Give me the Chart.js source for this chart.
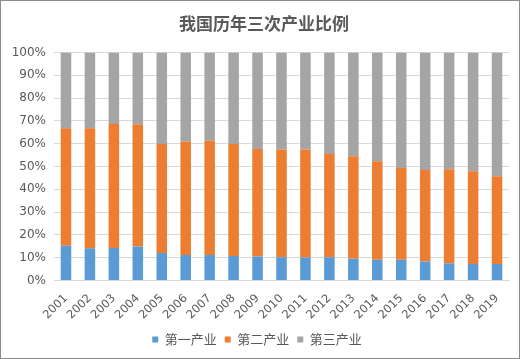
<!DOCTYPE html>
<html><head><meta charset="utf-8">
<script src="https://cdn.jsdelivr.net/npm/chart.js@4"></script>
<style>
html,body{margin:0;padding:0;background:#fff;}
#wrap{position:absolute;left:0;top:0;width:518px;height:357px;border:1px solid #8c8c8c;}
canvas{display:block;}
</style></head>
<body>
<div id="wrap"><canvas id="c" width="518" height="357"></canvas></div>
<script>
const years = ["2001","2002","2003","2004","2005","2006","2007","2008","2009","2010","2011","2012","2013","2014","2015","2016","2017","2018","2019"];
const primary   = [15.3,14.2,14.3,14.9,12.1,11.2,11.2,10.8,10.5,10.2,10.1,10.2,9.5,9.1,9.1,8.3,7.6,7.2,7.2];
const secondary = [51.4,52.5,54.3,53.6,47.8,49.7,50.1,49.1,47.2,47.2,47.3,45.3,45.0,43.2,40.2,40.2,41.2,40.7,38.5];
const tertiary  = [33.3,33.3,31.4,31.5,40.1,39.1,38.7,40.1,42.3,42.6,42.6,44.5,45.5,47.7,50.7,51.5,51.2,52.1,54.3];
const seriesNames = ["第一产业","第二产业","第三产业"];
const yTicks = [0,10,20,30,40,50,60,70,80,90,100];

const cjk = "'Noto Sans CJK SC', 'DejaVu Sans', sans-serif";
const lat = "'DejaVu Sans', sans-serif";
const bp = 0.44;
const shiftTitle = {
  id: 'shiftTitle',
  afterLayout(chart) {
    const t = chart.titleBlock;
    if (t) { t.left += 7; t.right += 7; }
  }
};
new Chart(document.getElementById('c'), {
  type: 'bar',
  data: {
    labels: years,
    datasets: [
      {label: seriesNames[0], data: primary, backgroundColor: '#5B9BD5', barPercentage: bp, categoryPercentage: 1},
      {label: seriesNames[1], data: secondary, backgroundColor: '#ED7D31', barPercentage: bp, categoryPercentage: 1},
      {label: seriesNames[2], data: tertiary, backgroundColor: '#A5A5A5', barPercentage: bp, categoryPercentage: 1}
    ]
  },
  plugins: [shiftTitle],
  options: {
    responsive: false,
    animation: false,
    layout: {padding: {left: 4, right: 10, top: 6, bottom: 2}},
    plugins: {
      title: {display: true, text: '我国历年三次产业比例', color: '#595959',
        font: {family: cjk, size: 17, weight: 'bold'}, padding: {top: 6, bottom: 19}},
      legend: {position: 'bottom', labels: {boxWidth: 6, boxHeight: 6, color: '#595959',
        font: {family: cjk, size: 13}, padding: 8}},
      tooltip: {enabled: false}
    },
    scales: {
      x: {stacked: true,
        afterFit: ax => { ax.height -= 8; },
        grid: {display: false, drawTicks: false},
        border: {display: true, color: '#D9D9D9'},
        ticks: {color: '#595959', font: {family: lat, size: 11.5}, minRotation: 45, maxRotation: 45, padding: 11, autoSkip: false}
      },
      y: {stacked: true, min: 0, max: 100,
        afterBuildTicks: ax => { ax.ticks = yTicks.map(v => ({value: v})); },
        afterFit: ax => { ax.width = 49; },
        grid: {color: '#D9D9D9', drawTicks: false},
        border: {display: false},
        ticks: {color: '#595959', font: {family: lat, size: 12}, padding: 8, callback: v => v + '%'}
      }
    }
  }
});
</script>
</body></html>
